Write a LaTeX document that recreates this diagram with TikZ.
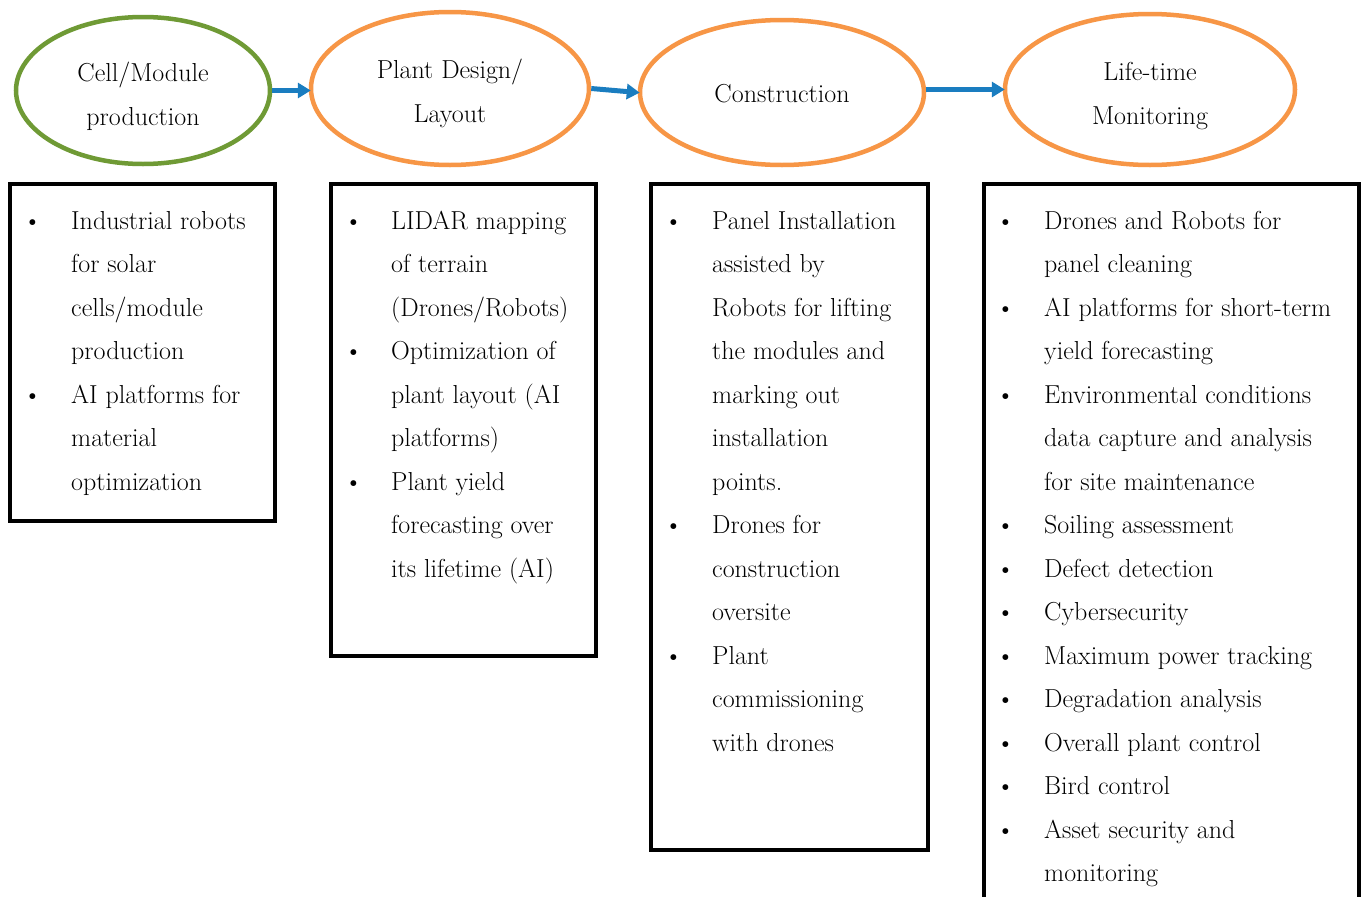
\documentclass[tikz,border=0pt]{standalone}
\usepackage{array}
\usetikzlibrary{arrows.meta,shapes.geometric}
\definecolor{olivegreen}{HTML}{6F9A35}
\definecolor{stageorange}{HTML}{F79646}
\definecolor{arrowblue}{HTML}{1A7DC0}
\tikzset{
  stage/.style={ellipse, draw=stageorange, line width=4.5pt, inner sep=0pt},
  stagetext/.style={inner sep=0pt, align=center, font=\fontsize{26}{44}\selectfont},
  listbox/.style={draw=black, line width=4pt},
  flow/.style={draw=arrowblue, line width=5pt, -{Triangle[length=13pt,width=15pt]}, shorten >=-2pt},
  items/.style={anchor=north west, inner sep=0pt, font=\fontsize{26}{43.5}\selectfont}
}
\newcommand{\bl}{\textbullet}
\begin{document}
\begin{tikzpicture}[x=1pt,y=-1pt]
\clip (0,0) rectangle (1361,897);
\fill[white] (0,0) rectangle (1361,897);
% stages
\node[stage, draw=olivegreen, minimum width=254pt, minimum height=147pt] (s1) at (143,90.5) {};
\node[stage, minimum width=278pt, minimum height=153pt] (s2) at (450,88.5) {};
\node[stage, minimum width=284pt, minimum height=145pt] (s3) at (782,92.5) {};
\node[stage, minimum width=290pt, minimum height=151pt] (s4) at (1150,89.5) {};
\node[stagetext] (s1t) at ([yshift=-6pt]s1.center) {Cell/Module\\production};
\node[stagetext] (s2t) at ([yshift=-5pt]s2.center) {Plant Design/\\Layout};
\node[stagetext] (s3t) at ([yshift=-1pt]s3.center) {Construction};
\node[stagetext] (s4t) at ([yshift=-7pt]s4.center) {Life-time\\Monitoring};
% arrows
\draw[flow] (s1.east) -- (s1.east -| s2.west);
\draw[flow] (s2.east) -- (s3.west);
\draw[flow] (s3.east |- s4.west) -- (s4.west);
% boxes
\draw[listbox] (10,184) rectangle (275,521);
\draw[listbox] (331,184) rectangle (596,656);
\draw[listbox] (651,184) rectangle (928,850);
\draw[listbox] (984,184) rectangle (1359,930);
% contents
\node[items] (t1) at (23,198.5) {\begin{tabular}{@{}p{48pt}@{}l@{}}
\bl & Industrial robots\\
 & for solar\\
 & cells/module\\
 & production\\
\bl & AI platforms for\\
 & material\\
 & optimization
\end{tabular}};
\node[items] (t2) at (344,198.5) {\begin{tabular}{@{}p{47pt}@{}l@{}}
\bl & LIDAR mapping\\
 & of terrain\\
 & (Drones/Robots)\\
\bl & Optimization of\\
 & plant layout (AI\\
 & platforms)\\
\bl & Plant yield\\
 & forecasting over\\
 & its lifetime (AI)
\end{tabular}};
\node[items] (t3) at (664,198.5) {\begin{tabular}{@{}p{48pt}@{}l@{}}
\bl & Panel Installation\\
 & assisted by\\
 & Robots for lifting\\
 & the modules and\\
 & marking out\\
 & installation\\
 & points.\\
\bl & Drones for\\
 & construction\\
 & oversite\\
\bl & Plant\\
 & commissioning\\
 & with drones
\end{tabular}};
\node[items] (t4) at (996,198.5) {\begin{tabular}{@{}p{48pt}@{}l@{}}
\bl & Drones and Robots for\\
 & panel cleaning\\
\bl & AI platforms for short-term\\
 & yield forecasting\\
\bl & Environmental conditions\\
 & data capture and analysis\\
 & for site maintenance\\
\bl & Soiling assessment\\
\bl & Defect detection\\
\bl & Cybersecurity\\
\bl & Maximum power tracking\\
\bl & Degradation analysis\\
\bl & Overall plant control\\
\bl & Bird control\\
\bl & Asset security and\\
 & monitoring
\end{tabular}};
\end{tikzpicture}
\end{document}
